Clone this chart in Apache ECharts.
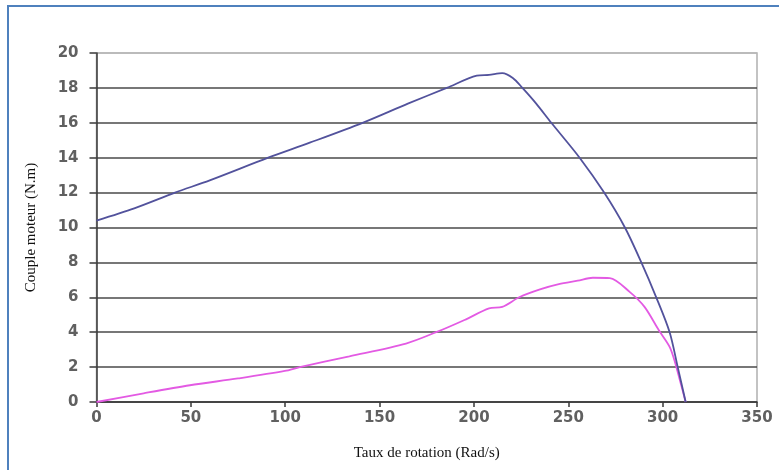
<!DOCTYPE html>
<html>
<head>
<meta charset="utf-8">
<script src="https://cdn.jsdelivr.net/npm/echarts@6/dist/echarts.min.js"></script>
<style>
  html, body { margin: 0; padding: 0; background: #ffffff; }
  #chart { width: 779px; height: 470px; }
</style>
</head>
<body>
<div id="chart"></div>
<script>
// Torque vs. rotation speed, two operating curves
const xTicks = [0, 50, 100, 150, 200, 250, 300, 350];
const yTicks = [0, 2, 4, 6, 8, 10, 12, 14, 16, 18, 20];

// [rotation speed (rad/s), torque (N.m)]
const couplePrincipal = [
  [0, 10.4], [20, 11.1], [41.6, 12], [60, 12.7], [91, 14], [113, 14.86],
  [141, 16], [165, 17.1], [185.6, 18], [201.5, 18.7], [208, 18.75],
  [215, 18.85], [220.6, 18.57], [225.7, 18], [233, 17.1], [241, 16],
  [256, 14], [269, 12], [280, 10], [288.7, 8],
  [296.6, 6], [303.7, 4], [308, 2], [312.2, 0]
];
const coupleSecondaire = [
  [0, 0], [25, 0.5], [49.5, 0.96], [75, 1.35], [99.8, 1.78], [107.7, 2],
  [134, 2.62], [164, 3.35], [180, 4], [195, 4.7], [208, 5.36], [215, 5.45],
  [224, 6], [235, 6.45], [245, 6.75], [255, 6.95], [263, 7.12], [272, 7.1],
  [282.5, 6.31], [290.4, 5.45], [298, 4.11], [303.7, 3.16], [306.5, 2.3],
  [309, 1.3], [312.2, 0]
];

const chart = echarts.init(document.getElementById('chart'));

const splitColors = yTicks.map((v, i) => i === yTicks.length - 1 ? '#b8b8b8' : '#4a4a4a');

const tickLabel = {
  fontFamily: 'DejaVu Sans, Liberation Sans, Arial, sans-serif',
  fontWeight: 'bold',
  fontSize: 15,
  color: '#606060'
};

chart.setOption({
  animation: false,
  backgroundColor: '#ffffff',
  graphic: [{
    type: 'rect',
    shape: { x: 8, y: 6, width: 900, height: 600 },
    style: { fill: 'none', stroke: '#4f81bd', lineWidth: 2 },
    silent: true
  }],
  grid: {
    left: 96.5, right: 22, top: 53, bottom: 68,
    show: true, borderColor: '#b0b0b0', borderWidth: 1.5, backgroundColor: '#ffffff'
  },
  xAxis: {
    type: 'value',
    min: xTicks[0], max: xTicks[xTicks.length - 1], interval: 50,
    name: 'Taux de rotation (Rad/s)',
    nameLocation: 'middle', nameGap: 44,
    nameTextStyle: { fontFamily: 'Liberation Serif, Times New Roman, serif', fontSize: 15, color: '#111' },
    axisLine: { lineStyle: { color: '#3a3a3a', width: 1.5 } },
    axisTick: { show: true, length: 5, lineStyle: { color: '#3a3a3a', width: 1.5 } },
    axisLabel: Object.assign({ margin: 9 }, tickLabel),
    splitLine: { show: false }
  },
  yAxis: {
    type: 'value',
    min: yTicks[0], max: yTicks[yTicks.length - 1], interval: 2,
    name: 'Couple moteur (N.m)',
    nameLocation: 'middle', nameGap: 58, nameRotate: 90,
    nameTextStyle: { fontFamily: 'Liberation Serif, Times New Roman, serif', fontSize: 15, color: '#111' },
    axisLine: { show: true, lineStyle: { color: '#3a3a3a', width: 1.5 } },
    axisTick: { show: true, length: 7, lineStyle: { color: '#3a3a3a', width: 1.5 } },
    axisLabel: Object.assign({ margin: 18 }, tickLabel),
    splitLine: { show: true, lineStyle: { color: splitColors, width: 1.5 } }
  },
  series: [
    {
      type: 'line', data: couplePrincipal, smooth: 0.3, symbol: 'none',
      lineStyle: { color: '#52529c', width: 1.8 }, z: 3
    },
    {
      type: 'line', data: coupleSecondaire, smooth: 0.3, symbol: 'none',
      lineStyle: { color: '#e35ae3', width: 1.8 }, z: 2
    }
  ]
});
</script>
</body>
</html>
